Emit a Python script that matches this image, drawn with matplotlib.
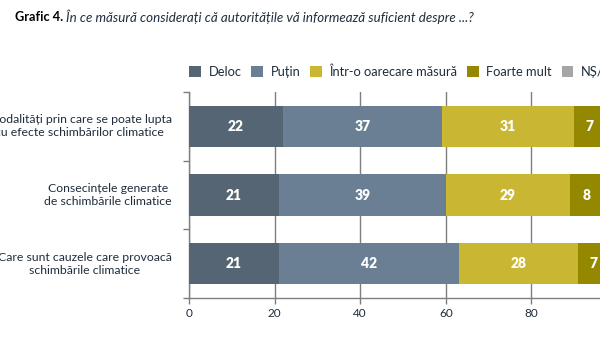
import matplotlib
matplotlib.use("Agg")
import matplotlib.pyplot as plt
from matplotlib.patches import Patch
import numpy as np

plt.rcParams['font.family'] = ['Lato', 'DejaVu Sans']

categories = ["Modalități prin care se poate lupta\ncu efecte schimbărilor climatice",
              "Consecințele generate\nde schimbările climatice",
              "Care sunt cauzele care provoacă\nschimbările climatice"]
series_names = ["Deloc", "Puțin", "Într-o oarecare măsură", "Foarte mult", "NȘ/NR"]
deloc = [22, 21, 21]
putin = [37, 39, 42]
intro = [31, 29, 28]
foarte = [7, 8, 7]
nsnr = [3, 3, 2]
colors = ["#566574", "#6A7F93", "#C9B733", "#948800", "#A6A6A6"]
xticks = [0, 20, 40, 60, 80]

fig = plt.figure(figsize=(6, 3.48), dpi=100)
W, H = 600, 348
x0, x1 = 189, 617
ytop, ybot = 92, 298
ax = fig.add_axes([x0 / W, 1 - ybot / H, (x1 - x0) / W, (ybot - ytop) / H])

data = [deloc, putin, intro, foarte, nsnr]
ypos = np.arange(len(categories))
left = np.zeros(len(categories))
for name, vals, c in zip(series_names, data, colors):
    vals = np.array(vals, dtype=float)
    ax.barh(ypos, vals, left=left, height=0.6, color=c, label=name, zorder=3)
    for y, l, v in zip(ypos, left, vals):
        if name != "NȘ/NR":
            ax.text(l + v / 2, y, f"{int(v)}", ha='center', va='center',
                    color='white', fontsize=10, fontweight='heavy', zorder=4)
    left += vals

ax.set_ylim(2.5, -0.5)
ax.set_xlim(0, 100)
ax.set_xticks(xticks)
ax.set_xticklabels([str(t) for t in xticks], fontsize=8.5, color='#1F2D3D')
ax.set_yticks([])
ax.set_yticks([-0.5, 0.5, 1.5, 2.5], minor=True)
ax.tick_params(axis='y', which='minor', length=4, color='#7F7F7F', width=1)
ax.tick_params(axis='x', length=4, color='#7F7F7F', width=1, pad=3)
ax.grid(axis='x', color='#7F7F7F', linewidth=1, zorder=0)
for s in ['top', 'right']:
    ax.spines[s].set_visible(False)
for s in ['left', 'bottom']:
    ax.spines[s].set_color('#7F7F7F')
    ax.spines[s].set_linewidth(1)

for y, cat in zip(ypos, categories):
    ax.text(-4.0, y, cat, ha='right', va='center',
            multialignment='center', fontsize=8.8, color='#1F2D3D', zorder=5)

handles = [Patch(facecolor=c, edgecolor='none') for c in colors]
fig.legend(handles, series_names, loc='center left', bbox_to_anchor=(189 / W, 1 - 72 / H),
           ncol=5, frameon=False, fontsize=9.3, handlelength=0.9, handleheight=0.9,
           handletextpad=0.6, columnspacing=0.75, borderaxespad=0, borderpad=0,
           labelcolor='#1F2D3D')

fig.text(15 / W, 1 - 17 / H, "Grafic 4.", fontsize=9.2, fontweight='bold',
         ha='left', va='center', color='#000000')
fig.text(66 / W, 1 - 17 / H, "În ce măsură considerați că autoritățile vă informează suficient despre ...?",
         fontsize=9.6, style='italic', ha='left', va='center', color='#1F2D3D')

fig.savefig("out.png", dpi=100)
